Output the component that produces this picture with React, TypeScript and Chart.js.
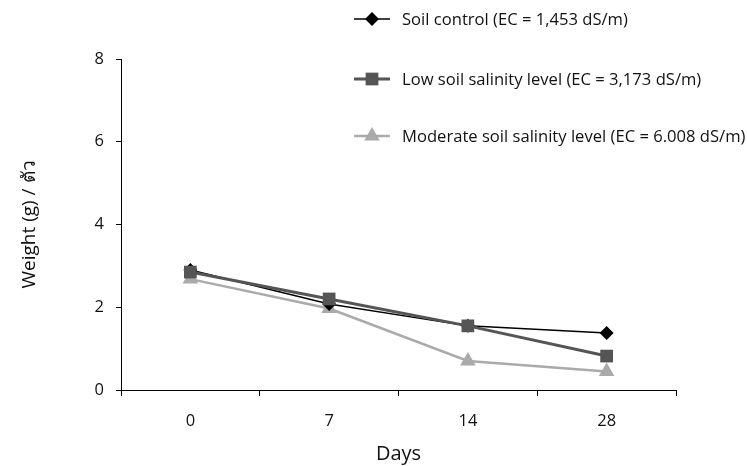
import React, { useEffect, useRef } from "react";
import { Chart, registerables } from "chart.js";

Chart.register(...registerables);

const categories = ["0", "7", "14", "28"];
const soilControl = [2.9, 2.08, 1.55, 1.38];
const lowSalinity = [2.85, 2.2, 1.55, 0.82];
const moderateSalinity = [2.68, 1.97, 0.7, 0.45];
const seriesLabels = [
  "Soil control (EC = 1,453 dS/m)",
  "Low soil salinity level (EC = 3,173 dS/m)",
  "Moderate soil salinity level (EC = 6.008 dS/m)",
];
const yTickValues = [0, 2, 4, 6, 8];
const xTitle = "Days";
const yTitle = "Weight (g) / ตัว";

const FONT = "'Open Sans', 'Noto Sans', sans-serif";

function drawMarker(ctx: CanvasRenderingContext2D, style: string, x: number, y: number, r: number, color: string) {
  ctx.save();
  ctx.fillStyle = color;
  ctx.beginPath();
  if (style === "rectRot") {
    ctx.moveTo(x, y - r);
    ctx.lineTo(x + r, y);
    ctx.lineTo(x, y + r);
    ctx.lineTo(x - r, y);
  } else if (style === "rect") {
    const s = Math.SQRT1_2 * r;
    ctx.rect(x - s, y - s, 2 * s, 2 * s);
  } else {
    ctx.moveTo(x, y - r);
    ctx.lineTo(x + r * 0.866, y + r * 0.5);
    ctx.lineTo(x - r * 0.866, y + r * 0.5);
  }
  ctx.closePath();
  ctx.fill();
  ctx.restore();
}

const legendPlugin = {
  id: "floatingLegend",
  afterDraw(chart: any) {
    const ctx = chart.ctx as CanvasRenderingContext2D;
    const rows = [19, 79, 136];
    chart.data.datasets.forEach((ds: any, i: number) => {
      const y = rows[i];
      ctx.save();
      ctx.strokeStyle = ds.borderColor;
      ctx.lineWidth = ds.borderWidth;
      ctx.beginPath();
      ctx.moveTo(354, y);
      ctx.lineTo(390, y);
      ctx.stroke();
      ctx.restore();
      drawMarker(ctx, ds.pointStyle, 372, y, ds.pointRadius, ds.pointBackgroundColor);
      ctx.save();
      ctx.fillStyle = "#111";
      ctx.font = `16.6px ${FONT}`;
      ctx.textBaseline = "middle";
      ctx.textAlign = "left";
      ctx.fillText(ds.label, 402, y + 1);
      ctx.restore();
    });
  },
};

export default function App() {
  const ref = useRef<HTMLCanvasElement | null>(null);

  useEffect(() => {
    if (!ref.current) return;
    const chart = new Chart(ref.current, {
      type: "line",
      data: {
        labels: categories,
        datasets: [
          {
            label: seriesLabels[0],
            data: soilControl,
            borderColor: "#000000",
            backgroundColor: "#000000",
            pointBackgroundColor: "#000000",
            pointBorderColor: "#000000",
            borderWidth: 1.5,
            pointStyle: "rectRot",
            pointRadius: 7,
            pointBorderWidth: 0,
            order: 1,
          },
          {
            label: seriesLabels[1],
            data: lowSalinity,
            borderColor: "#555555",
            backgroundColor: "#555555",
            pointBackgroundColor: "#555555",
            pointBorderColor: "#555555",
            borderWidth: 3,
            pointStyle: "rect",
            pointRadius: 9,
            pointBorderWidth: 0,
            order: 0,
          },
          {
            label: seriesLabels[2],
            data: moderateSalinity,
            borderColor: "#aaaaaa",
            backgroundColor: "#aaaaaa",
            pointBackgroundColor: "#aaaaaa",
            pointBorderColor: "#aaaaaa",
            borderWidth: 2.5,
            pointStyle: "triangle",
            pointRadius: 9,
            pointBorderWidth: 0,
            order: 2,
          },
        ],
      },
      options: {
        animation: false,
        responsive: false,
        layout: { padding: { top: 59, right: 71, left: 0, bottom: 0 } },
        plugins: {
          legend: { display: false },
          tooltip: { enabled: false },
        },
        scales: {
          x: {
            type: "category",
            offset: true,
            grid: {
              offset: true,
              drawOnChartArea: false,
              drawTicks: true,
              tickLength: 6,
              color: "#000",
            },
            border: { color: "#000", width: 1 },
            ticks: {
              color: "#111",
              font: { family: FONT, size: 16.5 },
              padding: 15,
            },
            title: {
              display: true,
              text: xTitle,
              color: "#111",
              font: { family: FONT, size: 20 },
              padding: { top: 2, bottom: 0 },
            },
            afterFit(scale: any) {
              scale.height = 76;
            },
          },
          y: {
            min: 0,
            max: 8,
            afterBuildTicks(scale: any) {
              scale.ticks = yTickValues.map((v) => ({ value: v }));
            },
            grid: {
              drawOnChartArea: false,
              drawTicks: true,
              tickLength: 5,
              color: "#000",
            },
            border: { color: "#000", width: 1 },
            ticks: {
              color: "#111",
              font: { family: FONT, size: 16.5 },
              padding: 12,
            },
            title: {
              display: true,
              text: yTitle,
              color: "#111",
              font: { family: FONT, size: 19 },
              padding: { top: 18, bottom: 0 },
            },
            afterFit(scale: any) {
              scale.width = 121;
            },
          },
        },
      },
      plugins: [legendPlugin],
    });
    return () => chart.destroy();
  }, []);

  return (
    <div style={{ position: "fixed", left: 0, top: 0, width: 747, height: 466, background: "#fff" }}>
      <canvas ref={ref} width={747} height={466} style={{ width: 747, height: 466 }} />
    </div>
  );
}
